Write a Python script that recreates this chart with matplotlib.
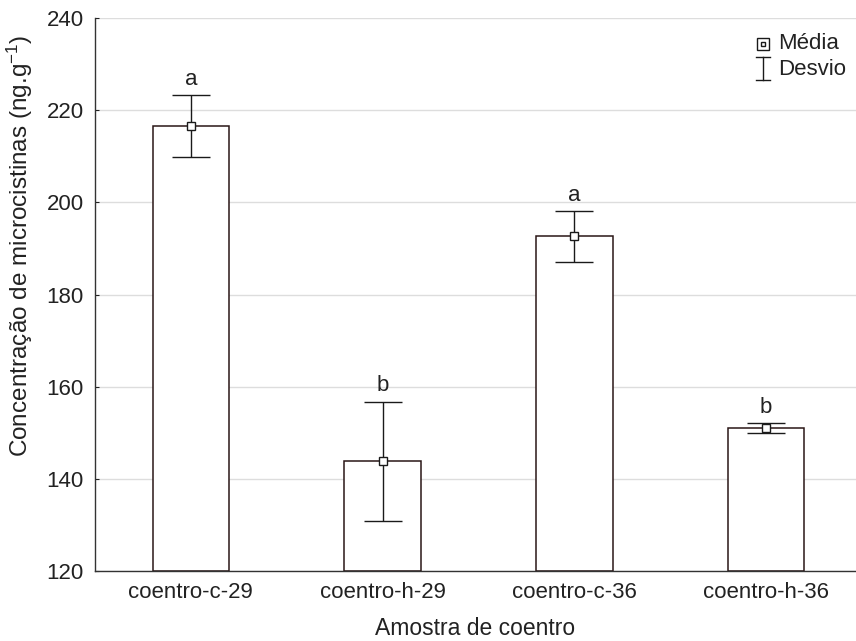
import matplotlib
matplotlib.use("Agg")
import matplotlib.pyplot as plt
from matplotlib.lines import Line2D

plt.rcParams['font.family'] = ['Liberation Sans', 'DejaVu Sans']
plt.rcParams['mathtext.fontset'] = 'custom'
plt.rcParams['mathtext.rm'] = 'Liberation Sans'
plt.rcParams['mathtext.it'] = 'Liberation Sans'
plt.rcParams['mathtext.default'] = 'regular'

categories = ["coentro-c-29", "coentro-h-29", "coentro-c-36", "coentro-h-36"]
means = [216.5, 143.8, 192.6, 151.0]
sds = [6.7, 12.9, 5.5, 1.1]
letters = ["a", "b", "a", "b"]
yticks = [120, 140, 160, 180, 200, 220, 240]

FS = 16
TC = '#222222'

fig = plt.figure(figsize=(8.56, 6.41), dpi=100)
ax = fig.add_axes([0.111, 0.109, 0.889, 0.863])

x = list(range(len(categories)))
edge = '#2a1616'
ax.bar(x, [m - 120 for m in means], bottom=120, width=0.4, color='white',
       edgecolor=edge, linewidth=1.1, zorder=2)
ax.errorbar(x, means, yerr=sds, fmt='none', ecolor='#1a1a1a', elinewidth=1.0,
            capsize=14, capthick=1.0, zorder=3)
ax.plot(x, means, ls='none', marker='s', markersize=5.5, markerfacecolor='white',
        markeredgecolor='#1a1a1a', markeredgewidth=1.0, zorder=4)
for xi, m, s, l in zip(x, means, sds, letters):
    ax.annotate(l, (xi, m + s), xytext=(0, 4), textcoords='offset points',
                ha='center', va='bottom', fontsize=FS, color=TC)

ax.set_ylim(120, 240)
ax.set_xlim(-0.5, 3.47)
ax.set_yticks(yticks)
ax.set_xticks(x)
ax.set_xticklabels(categories)
ax.tick_params(direction='in', length=3, labelsize=FS, colors=TC)
ax.tick_params(axis='y', pad=8)
ax.tick_params(axis='x', pad=8)
ax.yaxis.grid(True, color='#dddddd', linewidth=1.0, zorder=0)
ax.set_axisbelow(True)
for s in ['top', 'right']:
    ax.spines[s].set_visible(False)
for s in ['left', 'bottom']:
    ax.spines[s].set_color('#333333')
    ax.spines[s].set_linewidth(1.0)

fig.text(20 / 856, 1 - 246 / 641, "Concentração de microcistinas (ng.g$^{-1}$)", rotation=90,
         ha='center', va='center', fontsize=17.5, color=TC)
ax.set_xlabel("Amostra de coentro", fontsize=16.5, color=TC, labelpad=10)

# legend drawn manually in axes coordinates
lx = 0.878
tr = ax.transAxes
ax.add_line(Line2D([lx], [0.953], transform=tr, ls='none', marker='s', markersize=9,
                   markerfacecolor='white', markeredgecolor='#1a1a1a', markeredgewidth=1.0, clip_on=False))
ax.add_line(Line2D([lx], [0.953], transform=tr, ls='none', marker='s', markersize=3.5,
                   markerfacecolor='white', markeredgecolor='#1a1a1a', markeredgewidth=1.0, clip_on=False))
ax.text(lx + 0.02, 0.953, "Média", transform=tr, fontsize=FS, color=TC, va='center', ha='left')
cw = 0.009
ax.add_line(Line2D([lx, lx], [0.888, 0.929], transform=tr, color='#1a1a1a', lw=1.0, clip_on=False))
ax.add_line(Line2D([lx - cw, lx + cw], [0.929, 0.929], transform=tr, color='#1a1a1a', lw=1.0, clip_on=False))
ax.add_line(Line2D([lx - cw, lx + cw], [0.888, 0.888], transform=tr, color='#1a1a1a', lw=1.0, clip_on=False))
ax.text(lx + 0.02, 0.907, "Desvio", transform=tr, fontsize=FS, color=TC, va='center', ha='left')

fig.savefig("out.png", dpi=100)
